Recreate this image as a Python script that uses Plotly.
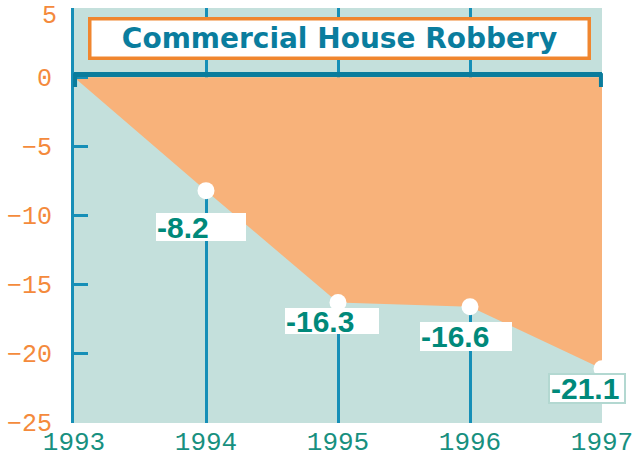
import plotly.graph_objects as go

# ---- data ----
years = [1993, 1994, 1995, 1996, 1997]
values = [0, -8.2, -16.3, -16.6, -21.1]
y_ticks = [5, 0, -5, -10, -15, -20, -25]
title_text = "Commercial House Robbery"

# ---- styles ----
BG = "#c4e0dc"
ORANGE_FILL = "#f8b27a"
GRID = "#168fb7"
AXIS_DARK = "#0a7c9c"
YTICK_COLOR = "#f48a3c"
XTICK_COLOR = "#17907f"
LABEL_COLOR = "#00897a"
TICK_FONT = dict(family="Liberation Mono", size=25, color=YTICK_COLOR)

label_years = years[1:]
label_values = values[1:]
label_xshift = [-5, -6, -4, -15]
label_yshift = [-36, -18, -30, -20]
label_width = [88, 92, 90, 72]
label_height = [26, 24, 27, 25]
label_border = [0, 0, 0, 2]


def fmt_tick(t):
    return str(t) if t >= 0 else "\u2212" + str(-t)


top_tick = max(y_ticks)

fig = go.Figure()

# zero baseline (invisible) and orange area between 0 and the series
fig.add_trace(go.Scatter(x=years, y=[0 for _ in years], mode="lines",
                         line=dict(width=0, color=ORANGE_FILL),
                         hoverinfo="skip", showlegend=False))
fig.add_trace(go.Scatter(x=years, y=values, mode="lines", fill="tonexty",
                         fillcolor=ORANGE_FILL,
                         line=dict(width=0, color=ORANGE_FILL),
                         showlegend=False))
# white pin heads
fig.add_trace(go.Scatter(x=label_years, y=label_values, mode="markers",
                         marker=dict(size=17, color="white",
                                     line=dict(width=0)),
                         cliponaxis=False, showlegend=False))

annotations = []
for yr, v, dx, dy, w, h, bw in zip(label_years, label_values, label_xshift,
                                    label_yshift, label_width, label_height,
                                    label_border):
    annotations.append(dict(
        x=yr, y=v, xref="x", yref="y", text=f"{v}", showarrow=False,
        xshift=dx, yshift=dy, width=w, height=h, align="left",
        bgcolor="white", bordercolor="#b3d8d1", borderwidth=bw, borderpad=1,
        font=dict(family="Liberation Sans", size=30, color=LABEL_COLOR,
                  weight="bold"),
    ))

annotations.append(dict(
    x=0.502, y=0.927, xref="paper", yref="paper", xanchor="center",
    yanchor="middle", text=f"<b>{title_text}</b>",
    showarrow=False, width=494, height=34, bgcolor="white",
    bordercolor="#f0862f", borderwidth=3.5, borderpad=1,
    font=dict(family="DejaVu Sans", size=28, color="#0a7d9e"),
))

# top tick label drawn as text so it stays inside the page
annotations.append(dict(
    x=0, y=top_tick, xref="paper", yref="y", xanchor="right", yanchor="middle",
    xshift=-15, yshift=-8, text=fmt_tick(top_tick), showarrow=False,
    font=TICK_FONT,
))

shapes = [
    # thick zero axis line
    dict(type="line", xref="paper", yref="y", x0=0, x1=1, y0=0.2, y1=0.2,
         line=dict(color=AXIS_DARK, width=5), layer="above"),
    # small end caps
    dict(type="line", xref="paper", yref="y", x0=0.002, x1=0.002, y0=0.3, y1=-0.7,
         line=dict(color=AXIS_DARK, width=4), layer="above"),
    dict(type="line", xref="paper", yref="y", x0=0.998, x1=0.998, y0=0.3, y1=-0.7,
         line=dict(color=AXIS_DARK, width=4), layer="above"),
]

fig.update_layout(
    width=639, height=458,
    margin=dict(l=74, r=37, t=8, b=35, autoexpand=False),
    paper_bgcolor="white", plot_bgcolor=BG,
    annotations=annotations, shapes=shapes,
    showlegend=False,
)
fig.update_xaxes(
    range=[1993, 1997], tickvals=years, ticktext=[str(y) for y in years],
    showgrid=True, gridcolor=GRID, gridwidth=3, zeroline=False,
    showline=False, ticks="", automargin=False, ticklabeloverflow="allow",
    tickfont=dict(family="Liberation Mono", size=26, color=XTICK_COLOR),
)
fig.update_yaxes(
    range=[-25.02, 5.02], tickvals=y_ticks,
    ticktext=["" if t == top_tick else fmt_tick(t) for t in y_ticks],
    showgrid=False, zeroline=False, automargin=False, ticklabeloverflow="allow",
    showline=True, linecolor=GRID, linewidth=3,
    ticks="inside", ticklen=14, tickwidth=3, tickcolor=GRID,
    ticklabelstandoff=14,
    tickfont=TICK_FONT,
)

fig.write_html("out.html", config={"displayModeBar": False},
               post_script="document.body.style.margin='0';document.body.style.overflow='hidden';")
